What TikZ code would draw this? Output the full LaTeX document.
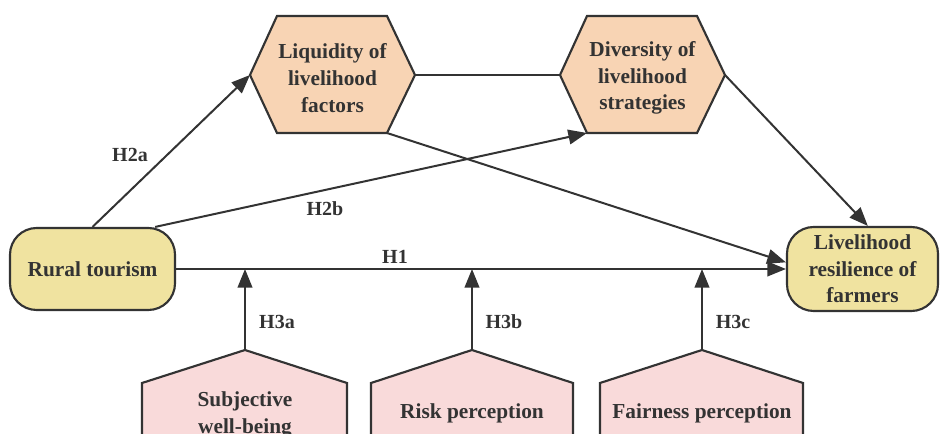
\documentclass[tikz,border=0pt]{standalone}
\usepackage{fontspec}
\setmainfont{Liberation Serif}
\newfontfamily\tnr{Liberation Serif}
\usetikzlibrary{arrows.meta}
\definecolor{ylw}{HTML}{F0E3A0}
\definecolor{peach}{HTML}{F8D4B4}
\definecolor{pnk}{HTML}{F9DADA}
\definecolor{strk}{HTML}{333333}
\definecolor{txtc}{HTML}{333333}
\begin{document}
\begin{tikzpicture}[x=0.75pt,y=-0.75pt]
\tikzset{
 txt/.style={font=\tnr\fontsize{16}{20}\selectfont\bfseries, text=txtc, align=center, inner sep=1pt},
 pill/.style={txt, draw=strk, fill=ylw, rounded corners=20pt, line width=1.6pt},
 hexa/.style={draw=strk, fill=peach, line width=1.6pt},
 house/.style={draw=strk, fill=pnk, line width=1.6pt},
 arr/.style={draw=strk, line width=1.5pt, -{Triangle[length=14pt,width=11pt]}},
 plain/.style={draw=strk, line width=1.5pt},
 lbl/.style={font=\tnr\fontsize{15}{18}\selectfont\bfseries, text=txtc, inner sep=1pt},
}
\useasboundingbox (0,0) rectangle (940,434);
\clip (0,0) rectangle (940,434);
% hexagons
\coordinate (liqL) at (250,75);
\coordinate (liqR) at (415,75);
\coordinate (liqBR) at (387,133);
\draw[hexa] (liqL) -- (277,16) -- (387,16) -- (liqR) -- (liqBR) -- (277,133) -- cycle;
\node[txt] (liq) at (332.5,78) {Liquidity of\\livelihood\\factors};
\coordinate (divL) at (560,75);
\coordinate (divR) at (725,75);
\coordinate (divBL) at (587,133);
\draw[hexa] (divL) -- (587,16) -- (697,16) -- (divR) -- (697,133) -- (divBL) -- cycle;
\node[txt] (div) at (642.5,78) {Diversity of\\livelihood\\strategies};
% pills
\node[pill, minimum width=123.75pt, minimum height=61.5pt] (rur) at (92.5,269) {Rural tourism};
\node[pill, minimum width=113.25pt, minimum height=63pt] (liv) at (862.5,269) {Livelihood\\resilience of\\farmers};
% houses
\coordinate (sa) at (245,350);
\coordinate (rb) at (472,350);
\coordinate (fc) at (702,350);
\draw[house] (142,470) -- (142,383) -- (sa) -- (347,383) -- (347,470) -- cycle;
\draw[house] (371,470) -- (371,383) -- (rb) -- (573,383) -- (573,470) -- cycle;
\draw[house] (600,470) -- (600,383) -- (fc) -- (803,383) -- (803,470) -- cycle;
\node[txt] (sub) at (245,415) {Subjective\\well-being};
\node[txt] (risk) at (472,413) {Risk perception};
\node[txt] (fair) at (702,413) {Fairness perception};
% connectors
\draw[arr] (rur.east) -- (liv.west);
\draw[arr] (rur.north) -- (liqL);
\draw[arr] ([xshift=47pt]rur.north) -- (divBL);
\draw[plain] (liqR) -- (divL);
\draw[arr] (liqBR) -- ([yshift=5pt]liv.west);
\draw[arr] (divR) -- ([xshift=4pt]liv.north);
\draw[arr] (sa) -- (sa |- rur.east);
\draw[arr] (rb) -- (rb |- rur.east);
\draw[arr] (fc) -- (fc |- rur.east);
% labels
\node[lbl] (h2a) at (130,155) {H2a};
\node[lbl] (h2b) at (325,209) {H2b};
\node[lbl] (h1) at (395,257) {H1};
\node[lbl] (h3a) at (277,322) {H3a};
\node[lbl] (h3b) at (504,322) {H3b};
\node[lbl] (h3c) at (733,322) {H3c};
\end{tikzpicture}
\end{document}
